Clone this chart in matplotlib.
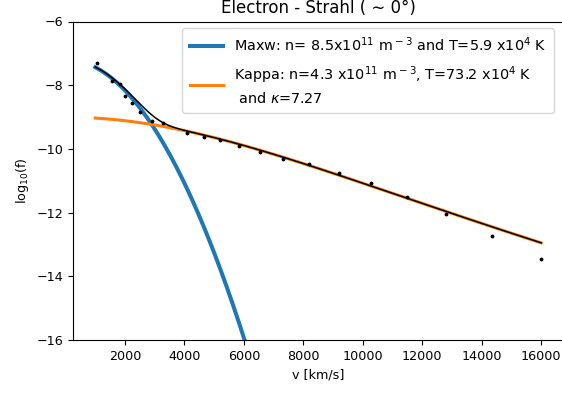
import math

import matplotlib
matplotlib.use("Agg")
import matplotlib.pyplot as plt
import numpy as np

# measured strahl distribution, log10 of f [s^3 m^-6]
v_data = [1060, 1550, 1820, 2000, 2240, 2520, 2900, 3280, 4100, 4650, 5210,
          5850, 6530, 7300, 8180, 9190, 10260, 11490, 12810, 14330, 16000]
logf_data = [-7.31, -7.88, -7.95, -8.34, -8.57, -8.83, -9.12, -9.19, -9.49,
             -9.62, -9.72, -9.90, -10.09, -10.33, -10.48, -10.77, -11.08,
             -11.50, -12.05, -12.73, -13.47]

# fit parameters
n_maxw = 8.5e11
T_maxw = 5.9e4
n_kappa = 4.3e11
T_kappa = 73.2e4
kappa = 7.27

k_B = 1.380649e-23
m_e = 9.1093837e-31


def maxwellian(v, n, T):
    v = v * 1e3
    return n * (m_e / (2 * np.pi * k_B * T)) ** 1.5 * np.exp(-m_e * v ** 2 / (2 * k_B * T))


def kappa_dist(v, n, T, k):
    v = v * 1e3
    theta2 = (2 * k - 3) / k * k_B * T / m_e
    norm = n / (np.pi ** 1.5 * theta2 ** 1.5) * math.exp(math.lgamma(k + 1) - math.lgamma(k - 0.5)) / k ** 1.5
    return norm * (1 + v ** 2 / (k * theta2)) ** (-(k + 1))


v = np.linspace(1000, 16000, 400)
f_m = maxwellian(v, n_maxw, T_maxw)
f_k = kappa_dist(v, n_kappa, T_kappa, kappa)

fig = plt.figure(figsize=(5.62, 3.98), dpi=100)
ax = fig.add_axes([73 / 562, 1 - 340 / 398, (563.5 - 73) / 562, (340 - 21.5) / 398])

ax.plot(v, np.log10(f_m), color='#1f77b4', lw=2.9,
        label='Maxw: n= 8.5x10$^{11}$ m$^-$$^3$ and T=5.9 x10$^4$ K')
ax.plot(v, np.log10(f_k), color='#ff7f0e', lw=2.2,
        label='Kappa: n=4.3 x10$^{11}$ m$^-$$^3$, T=73.2 x10$^4$ K\n and $\\kappa$=7.27')
ax.plot(v, np.log10(f_m + f_k), color='black', lw=1.1)
ax.plot(v_data, logf_data, '.', color='black', ms=3.5)

ax.set_xlim(250, 16750)
ax.set_ylim(-16, -6)
ax.set_yticks([-16, -14, -12, -10, -8, -6])
ax.set_xticks(range(2000, 16001, 2000))
ax.tick_params(labelsize=9.2)
ax.set_xlabel('v [km/s]', fontsize=9.2)
ax.set_ylabel('log$_{10}$(f)', fontsize=9.2)
ax.set_title('Electron - Strahl ( \u223c 0°)', fontsize=12)
leg = ax.legend(loc='upper right', fontsize=10.4, bbox_to_anchor=(554 / 562, 1 - 28 / 398),
                bbox_transform=fig.transFigure, borderaxespad=0, handlelength=2.3,
                labelspacing=0.7, borderpad=0.5)
for t in leg.get_texts():
    t.set_linespacing(1.45)

fig.savefig('out.png', dpi=100)
